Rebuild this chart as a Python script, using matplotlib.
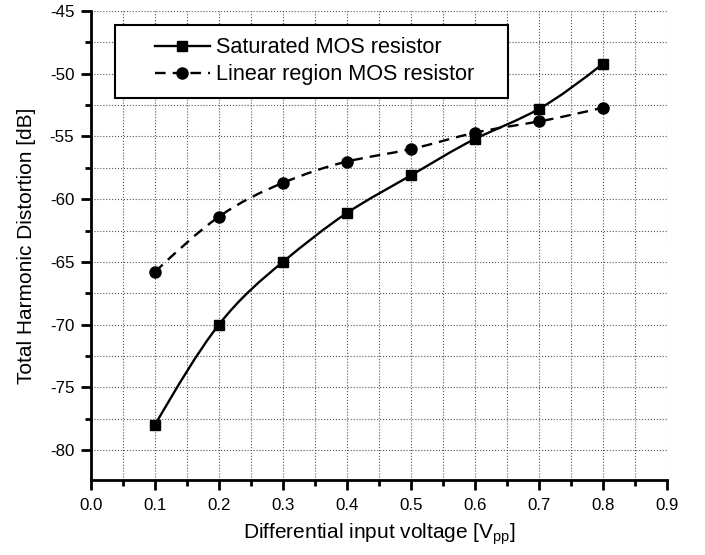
import numpy as np
import matplotlib
matplotlib.use("Agg")
import matplotlib.pyplot as plt
from matplotlib.path import Path
from matplotlib.patches import PathPatch, Rectangle
from matplotlib.lines import Line2D
from matplotlib.ticker import MultipleLocator

plt.rcParams['font.family'] = ['Liberation Sans', 'DejaVu Sans']
plt.rcParams['mathtext.fontset'] = 'custom'
plt.rcParams['mathtext.rm'] = 'Liberation Sans'
plt.rcParams['mathtext.it'] = 'Liberation Sans'
plt.rcParams['axes.unicode_minus'] = False

# DATA
vin = [0.1, 0.2, 0.3, 0.4, 0.5, 0.6, 0.7, 0.8]
thd_saturated = [-78.0, -70.0, -65.0, -61.1, -58.1, -55.2, -52.8, -49.2]
thd_linear = [-65.8, -61.4, -58.7, -57.0, -56.0, -54.7, -53.8, -52.7]
labels = ["Saturated MOS resistor", "Linear region MOS resistor"]


def smooth_path(x, y):
    # natural cubic spline through the points, drawn as Bezier segments
    x = np.asarray(x, float)
    y = np.asarray(y, float)
    n = len(x)
    h = np.diff(x)
    A = np.zeros((n, n))
    b = np.zeros(n)
    A[0, 0] = A[-1, -1] = 1
    for i in range(1, n-1):
        A[i, i-1] = h[i-1]
        A[i, i] = 2*(h[i-1]+h[i])
        A[i, i+1] = h[i]
        b[i] = 6*((y[i+1]-y[i])/h[i] - (y[i]-y[i-1])/h[i-1])
    M = np.linalg.solve(A, b)
    verts = [(x[0], y[0])]
    codes = [Path.MOVETO]
    for i in range(n-1):
        d0 = (y[i+1]-y[i])/h[i] - h[i]*(2*M[i]+M[i+1])/6
        d1 = (y[i+1]-y[i])/h[i] + h[i]*(M[i]+2*M[i+1])/6
        verts += [(x[i]+h[i]/3, y[i]+d0*h[i]/3),
                  (x[i+1]-h[i]/3, y[i+1]-d1*h[i]/3),
                  (x[i+1], y[i+1])]
        codes += [Path.CURVE4]*3
    return Path(verts, codes)


fig = plt.figure(figsize=(7.05, 5.55), dpi=100)
ax = fig.add_axes([0.129, 0.135, 0.817, 0.845])

lw = 1.7
dash = (0, (4.5, 3))
ax.add_patch(PathPatch(smooth_path(vin, thd_saturated), fill=False, lw=lw,
                       edgecolor='black', zorder=3))
ax.add_patch(PathPatch(smooth_path(vin, thd_linear), fill=False, lw=lw,
                       edgecolor='black', linestyle=dash, zorder=3))
ax.plot(vin, thd_saturated, 's', color='black', ms=7, ls='none', zorder=4)
ax.plot(vin, thd_linear, 'o', color='black', ms=8, ls='none', zorder=4)

ax.set_xlim(0.0, 0.9)
ax.set_ylim(-82.4, -45)
ax.xaxis.set_major_locator(MultipleLocator(0.1))
ax.xaxis.set_minor_locator(MultipleLocator(0.05))
ax.yaxis.set_major_locator(MultipleLocator(5))
ax.yaxis.set_minor_locator(MultipleLocator(2.5))
ax.set_xticklabels([f"{v:.1f}" for v in ax.get_xticks()])

ax.grid(True, which='both', linestyle=':', color='#555555', lw=0.8)
ax.set_axisbelow(True)
ax.spines['top'].set_visible(False)
ax.spines['right'].set_visible(False)
ax.spines['left'].set_linewidth(2)
ax.spines['bottom'].set_linewidth(2)
ax.tick_params(which='major', direction='out', length=7, width=2, labelsize=12.2)
ax.tick_params(axis='x', which='major', pad=6)
ax.tick_params(axis='y', which='major', pad=5)
ax.tick_params(which='minor', direction='out', length=4, width=2)

ax.set_xlabel("Differential input voltage [V$_{\\mathrm{pp}}$]", fontsize=15, labelpad=6)
ax.set_ylabel("Total Harmonic Distortion [dB]", fontsize=15, labelpad=10)

# legend frame (Origin style, wide padding)
ax.add_patch(Rectangle((0.0417, 0.8145), 0.6823, 0.1555, transform=ax.transAxes,
                       facecolor='white', edgecolor='black', lw=1.5, zorder=5))
handles = [
    Line2D([], [], color='black', lw=lw, marker='s', ms=7),
    Line2D([], [], color='black', lw=lw, ls=dash, marker='o', ms=8),
]
leg = ax.legend(handles, labels, loc='upper left', bbox_to_anchor=(0.111, 0.9445),
                fontsize=15.6, numpoints=1, frameon=False, handlelength=2.54,
                handletextpad=0.3, borderpad=0, labelspacing=0.29,
                borderaxespad=0)
leg.set_zorder(6)

fig.savefig("out.png", dpi=100)
